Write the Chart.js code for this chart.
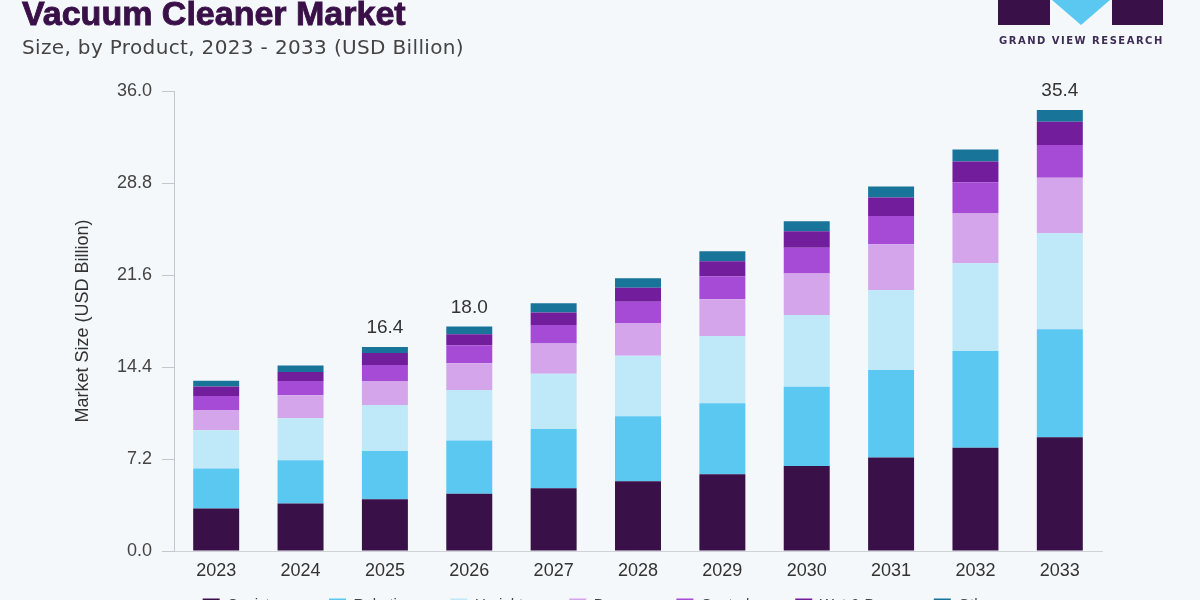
<!DOCTYPE html>
<html>
<head>
<meta charset="utf-8">
<script src="https://cdn.jsdelivr.net/npm/chart.js@4.4.1/dist/chart.umd.min.js"></script>
<style>
  html, body { margin: 0; padding: 0; background: #f4f8fb; overflow: hidden; }
  #wrap { position: relative; width: 1200px; height: 600px; overflow: hidden; }
  #chart { position: absolute; left: 0; top: 0; }
  .title { position: absolute; left: 22px; top: -6px; font-family: "Liberation Sans", Arial, sans-serif;
           font-weight: 700; font-size: 34px; color: #3a1048; -webkit-text-stroke: 0.9px #3a1048; white-space: nowrap; }
  .subtitle { position: absolute; left: 22px; top: 35px; font-family: "DejaVu Sans", sans-serif;
              font-size: 20px; letter-spacing: 0.35px; color: #444; white-space: nowrap; }
  .logo-l { position: absolute; left: 998px; top: 0; width: 52px; height: 25px; background: #3a1048; }
  .logo-r { position: absolute; left: 1112px; top: 0; width: 51px; height: 25px; background: #3a1048; }
  .logo-t { position: absolute; left: 1052px; top: 0; width: 0; height: 0;
            border-left: 29px solid transparent; border-right: 29px solid transparent; border-top: 25px solid #5bc8f2; }
  .logo-text { position: absolute; left: 999px; top: 35px; font-family: "DejaVu Sans", sans-serif; font-weight: 700;
               font-size: 10px; letter-spacing: 1.5px; color: #3d2d55; white-space: nowrap; }
</style>
</head>
<body>
<div id="wrap">
  <canvas id="chart" width="1200" height="658"></canvas>
  <div class="title">Vacuum Cleaner Market</div>
  <div class="subtitle">Size, by Product, 2023 - 2033 (USD Billion)</div>
  <div class="logo-l"></div><div class="logo-t"></div><div class="logo-r"></div>
  <div class="logo-text">GRAND VIEW RESEARCH</div>
</div>
<script>
const years = ['2023','2024','2025','2026','2027','2028','2029','2030','2031','2032','2033'];

const canister = [3.32, 3.71, 4.05, 4.49, 4.91, 5.45, 6.00, 6.65, 7.31, 8.09, 8.90];
const robotic  = [3.13, 3.39, 3.78, 4.15, 4.64, 5.09, 5.56, 6.21, 6.85, 7.56, 8.45];
const upright  = [3.00, 3.29, 3.60, 3.96, 4.33, 4.75, 5.27, 5.60, 6.26, 6.86, 7.51];
const drum     = [1.59, 1.80, 1.88, 2.09, 2.35, 2.55, 2.87, 3.26, 3.58, 3.91, 4.36];
const central  = [1.10, 1.12, 1.25, 1.41, 1.46, 1.67, 1.80, 2.01, 2.21, 2.43, 2.55];
const wetDry   = [0.74, 0.70, 0.94, 0.86, 0.97, 1.10, 1.17, 1.30, 1.46, 1.64, 1.83];
const others   = [0.44, 0.50, 0.47, 0.60, 0.73, 0.73, 0.78, 0.78, 0.86, 0.94, 0.91];

const yTicks = [0, 7.2, 14.4, 21.6, 28.8, 36.0];

// value labels printed above some bars
const labelYears = ['2025', '2026', '2033'];
const labelText  = ['16.4', '18.0', '35.4'];

const seriesNames  = ['Canister', 'Robotic', 'Upright', 'Drum', 'Central', 'Wet & Dry', 'Others'];
const seriesData   = [canister, robotic, upright, drum, central, wetDry, others];
const seriesColors = ['#3a1048', '#5bc8f2', '#bfe9f9', '#d4a5ea', '#a64bd6', '#721d9c', '#19749a'];

const xAxisHeight = 36;

const topLabels = {
  id: 'topLabels',
  afterDatasetsDraw(chart) {
    const ctx = chart.ctx;
    const lastMeta = chart.getDatasetMeta(chart.data.datasets.length - 1);
    ctx.save();
    ctx.font = '19px "Liberation Sans", Arial, sans-serif';
    ctx.fillStyle = '#333';
    ctx.textAlign = 'center';
    ctx.textBaseline = 'middle';
    labelYears.forEach(function(yr, k) {
      const i = years.indexOf(yr);
      const bar = lastMeta.data[i];
      ctx.fillText(labelText[k], bar.x, bar.y - 19);
    });
    ctx.restore();
  }
};

// the legend sits just under the year labels, mostly cut off by the page edge
const legendShift = {
  id: 'legendShift',
  afterLayout(chart) {
    const lg = chart.legend;
    lg.top -= xAxisHeight;
    lg.bottom -= xAxisHeight;
    lg.left += 18;
    lg.right += 18;
  }
};

const ctx = document.getElementById('chart').getContext('2d');
const myChart = new Chart(ctx, {
  type: 'bar',
  data: {
    labels: years,
    datasets: seriesNames.map(function(name, idx) {
      return {
        label: name,
        data: seriesData[idx],
        backgroundColor: seriesColors[idx],
        borderWidth: 0,
        barPercentage: 0.545,
        categoryPercentage: 1.0
      };
    })
  },
  options: {
    responsive: false,
    animation: false,
    devicePixelRatio: 1,
    layout: { padding: { left: 68, right: 98, top: 91, bottom: 0 } },
    plugins: {
      tooltip: { enabled: false },
      legend: {
        position: 'bottom',
        labels: {
          boxWidth: 17,
          boxHeight: 12,
          padding: 46,
          color: '#444',
          font: { family: '"Liberation Sans", Arial, sans-serif', size: 15 }
        }
      }
    },
    scales: {
      x: {
        stacked: true,
        grid: { display: false },
        border: { display: true, color: '#cfd3d8' },
        ticks: { color: '#333', padding: 1, font: { family: '"Liberation Sans", Arial, sans-serif', size: 18 } },
        afterFit: function(s) { s.height = xAxisHeight; }
      },
      y: {
        stacked: true,
        min: 0,
        max: 36,
        afterBuildTicks: function(s) { s.ticks = yTicks.map(function(v) { return { value: v }; }); },
        grid: { display: true, drawOnChartArea: false, drawTicks: true, tickLength: 12, color: '#c4c8cc' },
        border: { display: true, color: '#c4c8cc' },
        ticks: {
          color: '#444',
          padding: 10,
          font: { family: '"Liberation Sans", Arial, sans-serif', size: 18 },
          callback: function(v) { return Number(v).toFixed(1); }
        },
        title: {
          display: true,
          text: 'Market Size (USD Billion)',
          color: '#333',
          font: { family: '"Liberation Sans", Arial, sans-serif', size: 18 }
        },
        afterFit: function(s) { s.width = 106; }
      }
    }
  },
  plugins: [topLabels, legendShift]
});
</script>
</body>
</html>
